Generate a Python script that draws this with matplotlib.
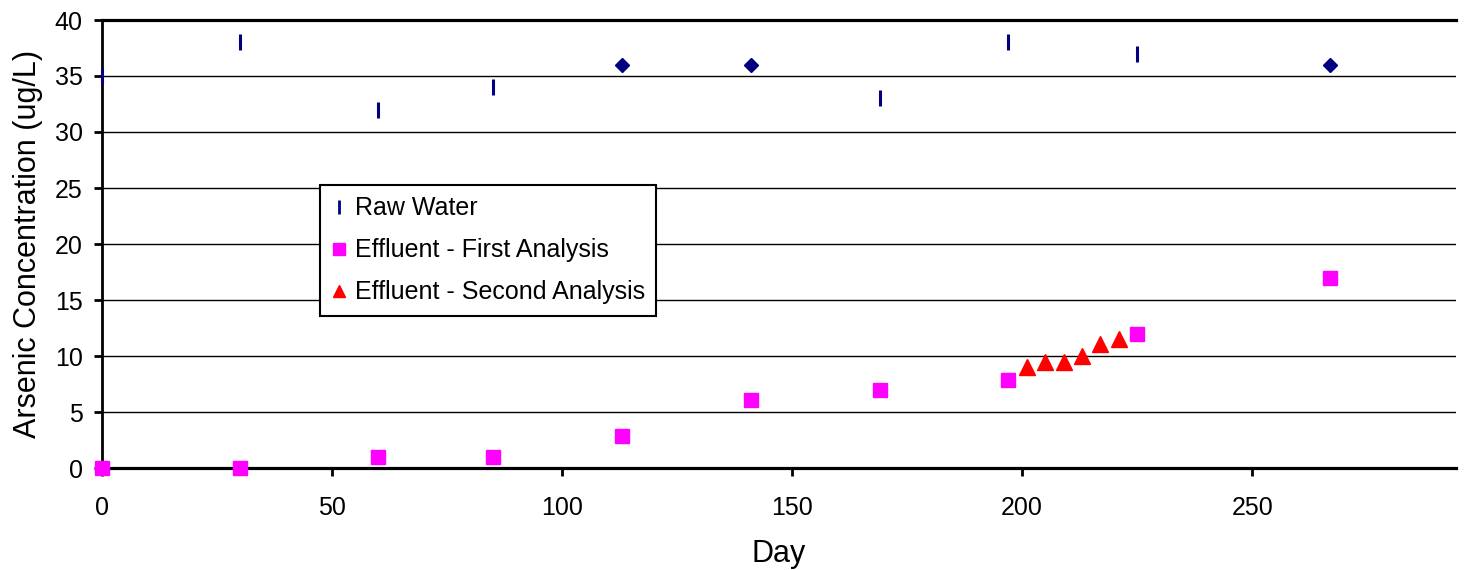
import matplotlib
matplotlib.use("Agg")
import matplotlib.pyplot as plt
from matplotlib.lines import Line2D

plt.rcParams['font.family'] = ['Liberation Sans', 'DejaVu Sans']

# Data
raw_days = [0, 30, 60, 85, 113, 141, 169, 197, 225, 267]
raw_vals = [35, 38, 32, 34, 36, 36, 33, 38, 37, 36]
raw_diamond = [False, False, False, False, True, True, False, False, False, True]

eff1_days = [0, 30, 60, 85, 113, 141, 169, 197, 225, 267]
eff1_vals = [0, 0, 1, 1, 2.85, 6.05, 7, 7.85, 12, 17]

eff2_days = [201, 205, 209, 213, 217, 221]
eff2_vals = [9.0, 9.5, 9.5, 10.0, 11.1, 11.5]

xticks = [0, 50, 100, 150, 200, 250]
yticks = [0, 5, 10, 15, 20, 25, 30, 35, 40]

navy = '#000080'

fig = plt.figure(figsize=(14.66, 5.70), dpi=100)
ax = fig.add_axes([102/1466, 1-468/570, (1456-102)/1466, (468-20)/570])

for y in yticks[1:-1]:
    ax.axhline(y, color='black', lw=1.0, zorder=1)
ax.axhline(40, color='black', lw=2.3, zorder=1, clip_on=False)

bar_d = [d for d, f in zip(raw_days, raw_diamond) if not f]
bar_v = [v for v, f in zip(raw_vals, raw_diamond) if not f]
dia_d = [d for d, f in zip(raw_days, raw_diamond) if f]
dia_v = [v for v, f in zip(raw_vals, raw_diamond) if f]
ax.plot(bar_d, bar_v, ls='none', marker='|', ms=11, mew=2.2, color=navy, zorder=3, clip_on=False)
ax.plot(dia_d, dia_v, ls='none', marker='D', ms=7.5, color=navy, zorder=3, clip_on=False)
ax.plot(eff1_days, eff1_vals, ls='none', marker='s', ms=10, color='#FF00FF', zorder=4, clip_on=False)
ax.plot(eff2_days, eff2_vals, ls='none', marker='^', ms=11, color='#FF0000', zorder=4, clip_on=False)

ax.set_xlim(0, 294.3)
ax.set_ylim(0, 40)
ax.set_xticks(xticks)
ax.set_yticks(yticks)
ax.tick_params(axis='both', labelsize=18, direction='out', length=6, width=2, colors='black')
ax.tick_params(axis='x', pad=14)
ax.tick_params(axis='y', pad=8)

for s in ['top', 'right']:
    ax.spines[s].set_visible(False)
ax.spines['left'].set_linewidth(2.0)
ax.spines['bottom'].set_linewidth(2.3)

ax.set_xlabel('Day', fontsize=22, labelpad=14)
ax.set_ylabel('Arsenic Concentration (ug/L)', fontsize=22, labelpad=8)

handles = [
    Line2D([], [], ls='none', marker='|', ms=10, mew=2, color=navy),
    Line2D([], [], ls='none', marker='s', ms=9, color='#FF00FF'),
    Line2D([], [], ls='none', marker='^', ms=9, color='#FF0000'),
]
labels = ['Raw Water', 'Effluent - First Analysis', 'Effluent - Second Analysis']
leg = ax.legend(handles, labels, loc='upper left', bbox_to_anchor=((320-102)/1354, (468-185)/448),
                fontsize=18, frameon=True, fancybox=False, edgecolor='black', framealpha=1,
                borderpad=0.45, handlelength=0.6, handletextpad=0.35, labelspacing=0.72,
                borderaxespad=0)
leg.get_frame().set_linewidth(1.5)
leg.set_zorder(5)

fig.savefig('out.png', dpi=100)
